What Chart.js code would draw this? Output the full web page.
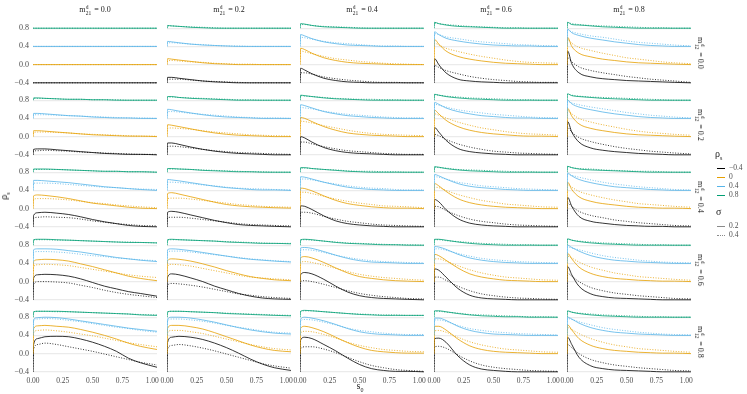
<!DOCTYPE html>
<html>
<head>
<meta charset="utf-8">
<script src="https://cdn.jsdelivr.net/npm/chart.js@4.4.1/dist/chart.umd.min.js"></script>
<style>
  body { margin: 0; background: #fff; width: 747px; height: 394px; position: relative; overflow: hidden;
         font-family: "Liberation Serif", "DejaVu Serif", serif; color: #1a1a1a; }
  canvas { position: absolute; }
  .txt { position: absolute; white-space: nowrap; font-size: 8px; line-height: 10px; color: #1a1a1a; will-change: transform; }
  .ss { display: inline-block; position: relative; width: 7px; height: 1px; }
  .ss .up { position: absolute; left: 0.5px; top: -7px; font-size: 5.5px; line-height: 6px; }
  .ss .dn { position: absolute; left: 0.5px; top: -1px; font-size: 5.5px; line-height: 6px; }
  .key { position: absolute; width: 8px; height: 0; }
</style>
</head>
<body>
<script>
// x grid of every curve (s0)
const s0 = [0, 0.005, 0.04, 0.1, 0.2, 0.3, 0.4, 0.5, 0.6, 0.7, 0.8, 0.9, 1.04];

const rhoLevels = ['\u22120.4', '0', '0.4', '0.8'];
const rhoColors = ['#000000', '#E69F00', '#56B4E9', '#009E73'];
const sigmaLevels = ['0.2', '0.4'];
const m21Levels = ['0.0', '0.2', '0.4', '0.6', '0.8'];   // columns
const m12Levels = ['0.0', '0.2', '0.4', '0.6', '0.8'];   // rows
const yTicks = [-0.4, 0, 0.4, 0.8];
const xTicks = [0, 0.25, 0.5, 0.75, 1];

// each panel: [rho -0.4 sigma .2, rho -0.4 sigma .4, rho 0 s.2, rho 0 s.4, rho .4 s.2, rho .4 s.4, rho .8 s.2, rho .8 s.4]
// ---- m12 = 0.0
const r1c1 = [
  [-0.4,-0.4,-0.4,-0.4,-0.4,-0.4,-0.4,-0.4,-0.4,-0.4,-0.4,-0.4,-0.4],
  [-0.4,-0.4,-0.4,-0.4,-0.4,-0.4,-0.4,-0.4,-0.4,-0.4,-0.4,-0.4,-0.4],
  [0,0,0,0,0,0,0,0,0,0,0,0,0],
  [0,0,0,0,0,0,0,0,0,0,0,0,0],
  [0.4,0.4,0.4,0.4,0.4,0.4,0.4,0.4,0.4,0.4,0.4,0.4,0.4],
  [0.4,0.4,0.4,0.4,0.4,0.4,0.4,0.4,0.4,0.4,0.4,0.4,0.4],
  [0.8,0.8,0.8,0.8,0.8,0.8,0.8,0.8,0.8,0.8,0.8,0.8,0.8],
  [0.8,0.8,0.8,0.8,0.8,0.8,0.8,0.8,0.8,0.8,0.8,0.8,0.8]
];
const r1c2 = [
  [-0.4,-0.28,-0.28,-0.3,-0.33,-0.36,-0.38,-0.39,-0.4,-0.4,-0.4,-0.4,-0.4],
  [-0.4,-0.33,-0.32,-0.32,-0.34,-0.36,-0.37,-0.38,-0.39,-0.4,-0.4,-0.4,-0.4],
  [0,0.13,0.12,0.1,0.07,0.04,0.02,0.01,0,0,0,0,0],
  [0,0.08,0.09,0.08,0.06,0.05,0.03,0.02,0.01,0.01,0,0,0],
  [0.4,0.51,0.5,0.48,0.45,0.43,0.42,0.41,0.4,0.4,0.4,0.4,0.4],
  [0.4,0.48,0.48,0.47,0.45,0.44,0.42,0.41,0.41,0.4,0.4,0.4,0.4],
  [0.8,0.86,0.85,0.84,0.82,0.81,0.8,0.8,0.8,0.8,0.8,0.8,0.8],
  [0.8,0.85,0.85,0.84,0.83,0.82,0.81,0.8,0.8,0.8,0.8,0.8,0.8]
];
const r1c3 = [
  [-0.4,-0.08,-0.12,-0.2,-0.3,-0.35,-0.38,-0.39,-0.4,-0.4,-0.4,-0.4,-0.4],
  [-0.4,-0.18,-0.18,-0.21,-0.27,-0.31,-0.34,-0.36,-0.38,-0.39,-0.39,-0.4,-0.4],
  [0,0.36,0.33,0.25,0.15,0.09,0.05,0.03,0.02,0.01,0,0,0],
  [0,0.3,0.28,0.24,0.18,0.13,0.1,0.07,0.05,0.03,0.02,0.01,0],
  [0.4,0.66,0.63,0.57,0.5,0.46,0.43,0.42,0.41,0.4,0.4,0.4,0.4],
  [0.4,0.6,0.59,0.56,0.51,0.48,0.46,0.44,0.42,0.41,0.41,0.4,0.4],
  [0.8,0.9,0.89,0.86,0.83,0.82,0.81,0.8,0.8,0.8,0.8,0.8,0.8],
  [0.8,0.88,0.88,0.86,0.84,0.83,0.82,0.81,0.8,0.8,0.8,0.8,0.8]
];
const r1c4 = [
  [-0.4,0.13,0.0,-0.18,-0.32,-0.36,-0.38,-0.39,-0.4,-0.4,-0.4,-0.4,-0.4],
  [-0.4,-0.02,-0.06,-0.13,-0.2,-0.26,-0.3,-0.33,-0.35,-0.37,-0.38,-0.39,-0.39],
  [0,0.55,0.45,0.3,0.18,0.12,0.08,0.05,0.03,0.02,0.01,0,0],
  [0,0.47,0.43,0.36,0.29,0.23,0.18,0.14,0.1,0.07,0.05,0.04,0.03],
  [0.4,0.72,0.66,0.58,0.52,0.48,0.45,0.43,0.42,0.41,0.41,0.4,0.4],
  [0.4,0.68,0.66,0.61,0.57,0.53,0.5,0.48,0.46,0.44,0.43,0.42,0.41],
  [0.8,0.93,0.9,0.87,0.84,0.83,0.82,0.81,0.8,0.8,0.8,0.8,0.8],
  [0.8,0.91,0.9,0.88,0.86,0.84,0.83,0.82,0.81,0.81,0.8,0.8,0.8]
];
const r1c5 = [
  [-0.4,0.3,0.02,-0.18,-0.27,-0.31,-0.33,-0.35,-0.36,-0.37,-0.38,-0.39,-0.4],
  [-0.4,0.15,0.06,-0.05,-0.13,-0.18,-0.22,-0.26,-0.29,-0.32,-0.34,-0.36,-0.39],
  [0,0.6,0.4,0.25,0.17,0.12,0.09,0.06,0.04,0.03,0.02,0.01,0],
  [0,0.55,0.47,0.38,0.31,0.25,0.2,0.15,0.12,0.09,0.06,0.04,0.02],
  [0.4,0.78,0.7,0.64,0.58,0.54,0.5,0.47,0.44,0.42,0.41,0.4,0.4],
  [0.4,0.75,0.72,0.68,0.63,0.6,0.56,0.52,0.49,0.47,0.45,0.43,0.41],
  [0.8,0.93,0.88,0.87,0.85,0.83,0.82,0.81,0.8,0.8,0.8,0.8,0.8],
  [0.8,0.92,0.9,0.88,0.86,0.85,0.84,0.83,0.82,0.81,0.81,0.8,0.8]
];
// ---- m12 = 0.2
const r2c1 = [
  [-0.4,-0.28,-0.27,-0.27,-0.29,-0.31,-0.33,-0.35,-0.37,-0.38,-0.39,-0.39,-0.4],
  [-0.4,-0.32,-0.31,-0.3,-0.31,-0.32,-0.34,-0.35,-0.36,-0.37,-0.38,-0.39,-0.39],
  [0,0.13,0.13,0.12,0.1,0.08,0.06,0.04,0.03,0.02,0.01,0.01,0],
  [0,0.09,0.1,0.1,0.09,0.08,0.06,0.05,0.04,0.03,0.02,0.01,0.01],
  [0.4,0.51,0.51,0.5,0.48,0.46,0.45,0.43,0.42,0.41,0.41,0.4,0.4],
  [0.4,0.48,0.48,0.48,0.47,0.46,0.45,0.44,0.43,0.42,0.41,0.41,0.4],
  [0.8,0.85,0.85,0.84,0.83,0.82,0.82,0.81,0.81,0.8,0.8,0.8,0.8],
  [0.8,0.84,0.84,0.84,0.83,0.82,0.82,0.81,0.81,0.81,0.8,0.8,0.8]
];
const r2c2 = [
  [-0.4,-0.14,-0.14,-0.17,-0.23,-0.28,-0.32,-0.35,-0.37,-0.38,-0.39,-0.4,-0.4],
  [-0.4,-0.22,-0.21,-0.22,-0.25,-0.28,-0.31,-0.33,-0.35,-0.36,-0.37,-0.38,-0.39],
  [0,0.26,0.25,0.22,0.17,0.12,0.08,0.05,0.03,0.02,0.01,0,0],
  [0,0.18,0.19,0.18,0.16,0.13,0.1,0.08,0.06,0.04,0.03,0.02,0.01],
  [0.4,0.6,0.59,0.56,0.52,0.48,0.45,0.43,0.42,0.41,0.4,0.4,0.4],
  [0.4,0.55,0.55,0.54,0.51,0.49,0.47,0.45,0.43,0.42,0.41,0.41,0.4],
  [0.8,0.88,0.88,0.86,0.84,0.83,0.82,0.81,0.8,0.8,0.8,0.8,0.8],
  [0.8,0.87,0.87,0.86,0.85,0.84,0.83,0.82,0.81,0.81,0.8,0.8,0.8]
];
const r2c3 = [
  [-0.4,0.0,-0.03,-0.12,-0.24,-0.31,-0.35,-0.37,-0.38,-0.39,-0.4,-0.4,-0.4],
  [-0.4,-0.12,-0.12,-0.16,-0.22,-0.27,-0.31,-0.33,-0.35,-0.37,-0.38,-0.39,-0.39],
  [0,0.42,0.4,0.33,0.22,0.14,0.08,0.05,0.03,0.02,0.01,0,0],
  [0,0.34,0.33,0.3,0.24,0.19,0.14,0.1,0.07,0.05,0.04,0.03,0.02],
  [0.4,0.7,0.68,0.63,0.55,0.5,0.46,0.44,0.42,0.41,0.4,0.4,0.4],
  [0.4,0.64,0.63,0.61,0.56,0.52,0.49,0.47,0.45,0.43,0.42,0.41,0.41],
  [0.8,0.91,0.9,0.88,0.85,0.83,0.82,0.81,0.8,0.8,0.8,0.8,0.8],
  [0.8,0.9,0.89,0.88,0.86,0.84,0.83,0.82,0.82,0.81,0.81,0.8,0.8]
];
const r2c4 = [
  [-0.4,0.2,0.1,-0.08,-0.26,-0.33,-0.36,-0.38,-0.39,-0.4,-0.4,-0.4,-0.4],
  [-0.4,0.05,0.02,-0.06,-0.16,-0.23,-0.28,-0.32,-0.34,-0.36,-0.37,-0.38,-0.39],
  [0,0.58,0.5,0.36,0.22,0.14,0.09,0.06,0.04,0.02,0.01,0.01,0],
  [0,0.5,0.47,0.41,0.32,0.25,0.19,0.15,0.11,0.08,0.06,0.05,0.03],
  [0.4,0.75,0.71,0.63,0.55,0.5,0.46,0.44,0.42,0.41,0.41,0.4,0.4],
  [0.4,0.71,0.69,0.65,0.59,0.55,0.52,0.49,0.47,0.45,0.43,0.42,0.41],
  [0.8,0.93,0.91,0.88,0.85,0.83,0.82,0.81,0.8,0.8,0.8,0.8,0.8],
  [0.8,0.92,0.91,0.89,0.87,0.85,0.84,0.83,0.82,0.81,0.81,0.8,0.8]
];
const r2c5 = [
  [-0.4,0.33,0.1,-0.12,-0.25,-0.3,-0.33,-0.35,-0.37,-0.38,-0.39,-0.4,-0.4],
  [-0.4,0.2,0.1,-0.02,-0.11,-0.17,-0.22,-0.26,-0.29,-0.32,-0.34,-0.36,-0.38],
  [0,0.62,0.45,0.28,0.18,0.13,0.09,0.06,0.04,0.03,0.02,0.01,0],
  [0,0.57,0.5,0.4,0.32,0.26,0.21,0.16,0.12,0.09,0.07,0.05,0.03],
  [0.4,0.8,0.72,0.65,0.59,0.54,0.5,0.47,0.44,0.42,0.41,0.4,0.4],
  [0.4,0.77,0.74,0.7,0.65,0.61,0.57,0.53,0.5,0.47,0.45,0.43,0.41],
  [0.8,0.94,0.9,0.88,0.86,0.84,0.83,0.82,0.81,0.8,0.8,0.8,0.8],
  [0.8,0.93,0.91,0.89,0.87,0.86,0.85,0.84,0.83,0.82,0.81,0.8,0.8]
];
// ---- m12 = 0.4
const r3c1 = [
  [-0.4,-0.15,-0.09,-0.08,-0.1,-0.13,-0.18,-0.24,-0.29,-0.33,-0.37,-0.39,-0.4],
  [-0.4,-0.22,-0.19,-0.18,-0.19,-0.2,-0.23,-0.27,-0.3,-0.33,-0.35,-0.37,-0.38],
  [0,0.28,0.3,0.29,0.26,0.22,0.17,0.12,0.09,0.06,0.03,0.01,0],
  [0,0.2,0.22,0.22,0.21,0.19,0.16,0.13,0.11,0.08,0.06,0.04,0.02],
  [0.4,0.62,0.62,0.61,0.59,0.57,0.54,0.51,0.48,0.46,0.44,0.42,0.4],
  [0.4,0.56,0.56,0.56,0.55,0.53,0.51,0.49,0.47,0.46,0.44,0.43,0.42],
  [0.8,0.87,0.87,0.87,0.86,0.85,0.84,0.83,0.82,0.82,0.81,0.81,0.8],
  [0.8,0.86,0.86,0.86,0.86,0.85,0.84,0.83,0.82,0.82,0.81,0.81,0.8]
];
const r3c2 = [
  [-0.4,-0.08,-0.06,-0.08,-0.14,-0.2,-0.26,-0.31,-0.35,-0.37,-0.38,-0.39,-0.4],
  [-0.4,-0.2,-0.19,-0.19,-0.21,-0.24,-0.27,-0.3,-0.33,-0.35,-0.36,-0.37,-0.38],
  [0,0.33,0.35,0.32,0.26,0.2,0.14,0.09,0.06,0.04,0.03,0.02,0.01],
  [0,0.22,0.23,0.23,0.21,0.18,0.15,0.12,0.09,0.07,0.05,0.04,0.03],
  [0.4,0.64,0.63,0.61,0.57,0.53,0.49,0.46,0.44,0.42,0.41,0.41,0.4],
  [0.4,0.58,0.58,0.57,0.55,0.52,0.5,0.47,0.45,0.44,0.43,0.42,0.41],
  [0.8,0.88,0.88,0.87,0.86,0.84,0.83,0.82,0.81,0.81,0.8,0.8,0.8],
  [0.8,0.87,0.87,0.87,0.86,0.85,0.84,0.83,0.82,0.81,0.81,0.8,0.8]
];
const r3c3 = [
  [-0.4,0.06,0.05,-0.02,-0.16,-0.27,-0.33,-0.36,-0.38,-0.39,-0.4,-0.4,-0.4],
  [-0.4,-0.08,-0.08,-0.1,-0.17,-0.23,-0.28,-0.31,-0.34,-0.36,-0.37,-0.38,-0.39],
  [0,0.45,0.44,0.39,0.28,0.18,0.11,0.07,0.04,0.02,0.01,0.01,0],
  [0,0.36,0.36,0.33,0.27,0.21,0.16,0.12,0.09,0.06,0.05,0.04,0.02],
  [0.4,0.7,0.69,0.65,0.58,0.52,0.47,0.44,0.42,0.41,0.4,0.4,0.4],
  [0.4,0.65,0.65,0.63,0.58,0.54,0.5,0.47,0.45,0.44,0.42,0.41,0.41],
  [0.8,0.9,0.9,0.88,0.86,0.84,0.82,0.81,0.8,0.8,0.8,0.8,0.8],
  [0.8,0.89,0.89,0.88,0.86,0.85,0.83,0.82,0.82,0.81,0.81,0.8,0.8]
];
const r3c4 = [
  [-0.4,0.2,0.15,-0.02,-0.22,-0.32,-0.36,-0.38,-0.39,-0.4,-0.4,-0.4,-0.4],
  [-0.4,0.05,0.04,-0.04,-0.15,-0.23,-0.28,-0.31,-0.34,-0.36,-0.37,-0.38,-0.39],
  [0,0.55,0.5,0.38,0.22,0.13,0.08,0.05,0.03,0.02,0.01,0,0],
  [0,0.47,0.46,0.4,0.31,0.24,0.18,0.14,0.1,0.08,0.06,0.04,0.03],
  [0.4,0.75,0.72,0.65,0.55,0.49,0.46,0.44,0.42,0.41,0.4,0.4,0.4],
  [0.4,0.7,0.69,0.65,0.58,0.54,0.5,0.48,0.46,0.44,0.43,0.42,0.41],
  [0.8,0.92,0.91,0.88,0.85,0.83,0.82,0.81,0.8,0.8,0.8,0.8,0.8],
  [0.8,0.91,0.9,0.89,0.86,0.85,0.84,0.83,0.82,0.81,0.81,0.8,0.8]
];
const r3c5 = [
  [-0.4,0.25,0.05,-0.17,-0.28,-0.32,-0.35,-0.37,-0.38,-0.39,-0.39,-0.4,-0.4],
  [-0.4,0.12,0.05,-0.06,-0.15,-0.2,-0.25,-0.28,-0.31,-0.33,-0.35,-0.37,-0.38],
  [0,0.58,0.42,0.26,0.16,0.11,0.08,0.05,0.03,0.02,0.01,0.01,0],
  [0,0.52,0.47,0.38,0.3,0.24,0.19,0.15,0.11,0.09,0.07,0.05,0.03],
  [0.4,0.78,0.72,0.64,0.57,0.52,0.48,0.46,0.44,0.42,0.41,0.4,0.4],
  [0.4,0.75,0.73,0.69,0.63,0.58,0.54,0.51,0.48,0.46,0.44,0.42,0.41],
  [0.8,0.93,0.9,0.87,0.85,0.84,0.83,0.82,0.81,0.8,0.8,0.8,0.8],
  [0.8,0.92,0.9,0.88,0.87,0.85,0.84,0.83,0.82,0.82,0.81,0.8,0.8]
];
// ---- m12 = 0.6
const r4c1 = [
  [-0.4,0.08,0.15,0.16,0.15,0.12,0.06,-0.02,-0.1,-0.16,-0.22,-0.26,-0.32],
  [-0.4,-0.06,0.0,0.0,-0.01,-0.03,-0.08,-0.13,-0.19,-0.24,-0.28,-0.31,-0.35],
  [0,0.44,0.48,0.49,0.48,0.45,0.39,0.33,0.26,0.19,0.12,0.07,0.02],
  [0,0.33,0.37,0.38,0.37,0.35,0.31,0.27,0.23,0.19,0.15,0.12,0.09],
  [0.4,0.7,0.72,0.72,0.71,0.68,0.65,0.61,0.57,0.53,0.5,0.47,0.44],
  [0.4,0.64,0.66,0.66,0.65,0.63,0.6,0.57,0.55,0.52,0.5,0.48,0.46],
  [0.8,0.92,0.93,0.93,0.92,0.91,0.9,0.89,0.88,0.87,0.86,0.86,0.85],
  [0.8,0.91,0.92,0.92,0.91,0.91,0.9,0.89,0.88,0.87,0.87,0.86,0.85]
];
const r4c2 = [
  [-0.4,0.1,0.17,0.15,0.08,0.0,-0.1,-0.18,-0.26,-0.32,-0.36,-0.38,-0.39],
  [-0.4,-0.08,-0.04,-0.05,-0.08,-0.12,-0.17,-0.22,-0.27,-0.3,-0.33,-0.35,-0.37],
  [0,0.46,0.5,0.49,0.45,0.39,0.32,0.24,0.17,0.11,0.07,0.04,0.02],
  [0,0.34,0.38,0.37,0.34,0.29,0.24,0.19,0.14,0.1,0.08,0.06,0.04],
  [0.4,0.7,0.72,0.71,0.68,0.64,0.6,0.56,0.52,0.49,0.47,0.45,0.43],
  [0.4,0.65,0.67,0.67,0.65,0.62,0.59,0.56,0.53,0.5,0.48,0.46,0.44],
  [0.8,0.92,0.93,0.92,0.91,0.9,0.89,0.87,0.86,0.85,0.84,0.84,0.83],
  [0.8,0.91,0.92,0.92,0.91,0.9,0.89,0.88,0.87,0.86,0.85,0.84,0.84]
];
const r4c3 = [
  [-0.4,0.15,0.2,0.17,0.05,-0.1,-0.23,-0.31,-0.35,-0.37,-0.38,-0.39,-0.4],
  [-0.4,0.0,0.02,0.0,-0.06,-0.13,-0.2,-0.26,-0.3,-0.33,-0.35,-0.37,-0.38],
  [0,0.52,0.55,0.52,0.42,0.3,0.19,0.11,0.07,0.04,0.02,0.01,0],
  [0,0.42,0.44,0.42,0.36,0.29,0.22,0.16,0.12,0.09,0.07,0.05,0.03],
  [0.4,0.74,0.75,0.73,0.66,0.58,0.51,0.46,0.43,0.42,0.41,0.4,0.4],
  [0.4,0.69,0.7,0.69,0.64,0.58,0.53,0.49,0.46,0.44,0.43,0.42,0.41],
  [0.8,0.92,0.93,0.92,0.89,0.86,0.84,0.83,0.82,0.81,0.81,0.8,0.8],
  [0.8,0.91,0.92,0.91,0.89,0.87,0.85,0.84,0.83,0.82,0.81,0.81,0.8]
];
const r4c4 = [
  [-0.4,0.28,0.25,0.1,-0.15,-0.3,-0.36,-0.38,-0.39,-0.4,-0.4,-0.4,-0.4],
  [-0.4,0.1,0.1,0.03,-0.1,-0.2,-0.27,-0.31,-0.34,-0.36,-0.37,-0.38,-0.39],
  [0,0.6,0.57,0.47,0.3,0.17,0.1,0.06,0.03,0.02,0.01,0,0],
  [0,0.5,0.5,0.45,0.35,0.26,0.19,0.14,0.1,0.08,0.06,0.04,0.03],
  [0.4,0.77,0.76,0.71,0.6,0.52,0.47,0.44,0.42,0.41,0.4,0.4,0.4],
  [0.4,0.72,0.72,0.69,0.62,0.56,0.51,0.48,0.46,0.44,0.43,0.42,0.41],
  [0.8,0.93,0.93,0.91,0.87,0.84,0.82,0.81,0.8,0.8,0.8,0.8,0.8],
  [0.8,0.92,0.92,0.9,0.88,0.86,0.84,0.83,0.82,0.81,0.81,0.8,0.8]
];
const r4c5 = [
  [-0.4,0.33,0.15,-0.1,-0.27,-0.33,-0.36,-0.37,-0.38,-0.39,-0.4,-0.4,-0.4],
  [-0.4,0.18,0.12,0.0,-0.13,-0.2,-0.25,-0.28,-0.31,-0.33,-0.35,-0.37,-0.38],
  [0,0.62,0.5,0.32,0.18,0.11,0.07,0.05,0.03,0.02,0.01,0.01,0],
  [0,0.56,0.52,0.43,0.32,0.25,0.19,0.15,0.11,0.09,0.07,0.05,0.03],
  [0.4,0.8,0.75,0.67,0.57,0.51,0.47,0.45,0.43,0.42,0.41,0.4,0.4],
  [0.4,0.76,0.74,0.7,0.63,0.57,0.53,0.5,0.47,0.45,0.43,0.42,0.41],
  [0.8,0.94,0.91,0.88,0.85,0.83,0.82,0.81,0.8,0.8,0.8,0.8,0.8],
  [0.8,0.93,0.91,0.89,0.87,0.85,0.84,0.83,0.82,0.81,0.81,0.8,0.8]
];
// ---- m12 = 0.8
const r5c1 = [
  [-0.4,0.2,0.33,0.37,0.38,0.37,0.32,0.25,0.16,0.05,-0.1,-0.2,-0.3],
  [-0.4,0.1,0.2,0.23,0.2,0.15,0.1,0.05,-0.01,-0.07,-0.13,-0.19,-0.25],
  [0,0.55,0.61,0.62,0.6,0.58,0.53,0.47,0.4,0.32,0.23,0.16,0.09],
  [0,0.46,0.51,0.52,0.5,0.47,0.43,0.39,0.34,0.29,0.24,0.2,0.15],
  [0.4,0.75,0.79,0.8,0.79,0.76,0.72,0.68,0.64,0.6,0.56,0.53,0.49],
  [0.4,0.72,0.76,0.77,0.76,0.73,0.7,0.66,0.62,0.58,0.55,0.51,0.47],
  [0.8,0.92,0.93,0.93,0.93,0.92,0.91,0.9,0.89,0.88,0.87,0.85,0.84],
  [0.8,0.91,0.93,0.93,0.92,0.92,0.91,0.9,0.89,0.88,0.87,0.86,0.85]
];
const r5c2 = [
  [-0.4,0.25,0.36,0.38,0.36,0.31,0.23,0.13,0.01,-0.12,-0.23,-0.31,-0.37],
  [-0.4,0.1,0.18,0.2,0.17,0.12,0.06,-0.01,-0.08,-0.15,-0.22,-0.27,-0.32],
  [0,0.56,0.62,0.62,0.59,0.54,0.46,0.37,0.28,0.19,0.12,0.07,0.04],
  [0,0.46,0.51,0.51,0.48,0.44,0.38,0.32,0.26,0.2,0.15,0.11,0.08],
  [0.4,0.76,0.8,0.8,0.78,0.74,0.69,0.63,0.57,0.52,0.48,0.45,0.43],
  [0.4,0.72,0.76,0.76,0.74,0.71,0.67,0.62,0.58,0.54,0.5,0.47,0.45],
  [0.8,0.92,0.93,0.93,0.92,0.91,0.9,0.88,0.87,0.86,0.85,0.84,0.83],
  [0.8,0.91,0.93,0.93,0.92,0.91,0.9,0.89,0.88,0.87,0.86,0.85,0.84]
];
const r5c3 = [
  [-0.4,0.3,0.36,0.33,0.2,0.06,-0.1,-0.24,-0.33,-0.37,-0.39,-0.39,-0.4],
  [-0.4,0.1,0.15,0.15,0.1,0.02,-0.08,-0.18,-0.26,-0.31,-0.35,-0.37,-0.39],
  [0,0.56,0.6,0.57,0.48,0.36,0.24,0.14,0.07,0.04,0.02,0.01,0.01],
  [0,0.45,0.49,0.48,0.42,0.34,0.25,0.18,0.13,0.09,0.07,0.05,0.04],
  [0.4,0.76,0.8,0.78,0.72,0.64,0.55,0.48,0.44,0.42,0.41,0.4,0.4],
  [0.4,0.72,0.75,0.74,0.69,0.63,0.56,0.51,0.48,0.45,0.43,0.42,0.42],
  [0.8,0.93,0.95,0.94,0.92,0.9,0.88,0.86,0.85,0.84,0.84,0.84,0.84],
  [0.8,0.92,0.94,0.94,0.92,0.9,0.88,0.87,0.86,0.85,0.85,0.84,0.84]
];
const r5c4 = [
  [-0.4,0.33,0.34,0.25,-0.05,-0.25,-0.34,-0.37,-0.39,-0.4,-0.4,-0.4,-0.4],
  [-0.4,0.15,0.16,0.12,-0.03,-0.16,-0.25,-0.3,-0.33,-0.35,-0.37,-0.38,-0.39],
  [0,0.6,0.6,0.52,0.32,0.17,0.09,0.05,0.03,0.02,0.01,0,0],
  [0,0.5,0.51,0.47,0.36,0.26,0.19,0.14,0.1,0.08,0.06,0.04,0.03],
  [0.4,0.78,0.78,0.73,0.6,0.51,0.46,0.43,0.42,0.41,0.4,0.4,0.4],
  [0.4,0.74,0.74,0.71,0.62,0.55,0.51,0.48,0.46,0.44,0.43,0.42,0.41],
  [0.8,0.94,0.94,0.92,0.88,0.85,0.83,0.82,0.81,0.81,0.8,0.8,0.8],
  [0.8,0.93,0.93,0.91,0.89,0.86,0.85,0.84,0.83,0.82,0.81,0.81,0.8]
];
const r5c5 = [
  [-0.4,0.36,0.2,-0.08,-0.27,-0.33,-0.36,-0.37,-0.38,-0.39,-0.4,-0.4,-0.4],
  [-0.4,0.2,0.13,0.0,-0.13,-0.2,-0.25,-0.28,-0.31,-0.33,-0.35,-0.37,-0.38],
  [0,0.63,0.52,0.33,0.18,0.11,0.07,0.05,0.03,0.02,0.01,0.01,0],
  [0,0.57,0.53,0.44,0.33,0.25,0.19,0.15,0.11,0.09,0.07,0.05,0.03],
  [0.4,0.8,0.76,0.67,0.57,0.51,0.47,0.45,0.43,0.42,0.41,0.4,0.4],
  [0.4,0.77,0.75,0.7,0.63,0.57,0.53,0.5,0.47,0.45,0.43,0.42,0.41],
  [0.8,0.94,0.91,0.88,0.85,0.83,0.82,0.81,0.8,0.8,0.8,0.8,0.8],
  [0.8,0.93,0.91,0.89,0.87,0.85,0.84,0.83,0.82,0.81,0.81,0.8,0.8]
];

const panels = [
  [r1c1, r1c2, r1c3, r1c4, r1c5],
  [r2c1, r2c2, r2c3, r2c4, r2c5],
  [r3c1, r3c2, r3c3, r3c4, r3c5],
  [r4c1, r4c2, r4c3, r4c4, r4c5],
  [r5c1, r5c2, r5c3, r5c4, r5c5]
];

// layout (px)
const panelLeft = 33, colPitch = 133.5, panelW = 124;
const panelTop = 20, rowPitch = 72.2, panelH = 66;
const yAxisW = 33, xAxisH = 12, sideRoom = 9;
const gridColor = '#ebebeb';
const tickColor = '#4d4d4d';
const fontFamily = '"Liberation Serif", "DejaVu Serif", serif';

function addText(html, left, top, css) {
  const d = document.createElement('div');
  d.className = 'txt';
  d.innerHTML = html;
  d.style.left = left + 'px';
  d.style.top = top + 'px';
  if (css) Object.assign(d.style, css);
  document.body.appendChild(d);
  return d;
}

// no extra room for tick labels: the plot area must be exactly the panel
function noPad(s) {
  s.paddingLeft = 0; s.paddingRight = 0; s.paddingTop = 0; s.paddingBottom = 0;
}

function makePanel(r, c) {
  const isLeft = c === 0, isBottom = r === 4;
  const L = Math.round(panelLeft + c * colPitch);
  const T = Math.round(panelTop + r * rowPitch);
  // bottom row gets some room left/right so the end tick labels are not cut
  const padL = isBottom && !isLeft ? sideRoom : 0;
  const padR = isBottom ? sideRoom : 0;
  const cv = document.createElement('canvas');
  const w = panelW + (isLeft ? yAxisW : 0) + padL + padR;
  const h = panelH + (isBottom ? xAxisH : 0);
  cv.width = w; cv.height = h;
  cv.style.left = (L - (isLeft ? yAxisW : 0) - padL) + 'px';
  cv.style.top = T + 'px';
  cv.style.width = w + 'px'; cv.style.height = h + 'px';
  document.body.appendChild(cv);

  const series = panels[r][c];
  const datasets = [];
  // green first so black ends on top
  for (let i = 3; i >= 0; i--) {
    for (let j = 0; j < 2; j++) {
      datasets.push({
        data: s0.map((x, k) => ({ x: x, y: series[i * 2 + j][k] })),
        borderColor: rhoColors[i],
        borderWidth: 0.8,
        borderDash: j === 1 ? [1, 1.6] : [],
        pointRadius: 0,
        cubicInterpolationMode: 'monotone',
        fill: false
      });
    }
  }

  new Chart(cv, {
    type: 'line',
    data: { datasets: datasets },
    options: {
      responsive: false,
      animation: false,
      devicePixelRatio: 1,
      events: [],
      layout: { padding: { left: padL, right: padR, top: 0, bottom: 0 } },
      plugins: { legend: { display: false }, tooltip: { enabled: false } },
      scales: {
        x: {
          type: 'linear', min: 0, max: 1.04,
          grid: { display: false, drawTicks: false },
          border: { display: false },
          afterBuildTicks: s => { s.ticks = xTicks.map(v => ({ value: v })); },
          afterFit: s => { s.height = isBottom ? xAxisH : 0; noPad(s); },
          ticks: {
            display: isBottom, padding: 2, color: tickColor, maxRotation: 0, autoSkip: false,
            font: { family: fontFamily, size: 7.5 },
            callback: v => v.toFixed(2)
          }
        },
        y: {
          type: 'linear', min: -0.47, max: 0.98,
          grid: { color: gridColor, lineWidth: 1.2, drawTicks: false },
          border: { display: false },
          afterBuildTicks: s => { s.ticks = yTicks.map(v => ({ value: v })); },
          afterFit: s => { s.width = isLeft ? yAxisW : 0; noPad(s); },
          ticks: {
            display: isLeft, padding: 4, color: tickColor, autoSkip: false,
            font: { family: fontFamily, size: 8 },
            callback: v => (v < 0 ? '\u2212' : '') + Math.abs(v).toFixed(1)
          }
        }
      }
    }
  });
}

for (let r = 0; r < 5; r++) {
  for (let c = 0; c < 5; c++) makePanel(r, c);
}

// top strips (m21)
m21Levels.forEach((lv, c) => {
  const cx = Math.round(panelLeft + c * colPitch) + panelW / 2;
  const d = addText('m<span class="ss"><span class="up">d</span><span class="dn">21</span></span> = ' + lv, cx, 5);
  d.style.transform = 'translateX(-50%)';
});
// right strips (m12)
m12Levels.forEach((lv, r) => {
  const cy = Math.round(panelTop + r * rowPitch) + panelH / 2;
  const d = addText('m<span class="ss"><span class="up">d</span><span class="dn">12</span></span> = ' + lv, 700, cy);
  d.style.transform = 'translate(-50%, -50%) rotate(90deg)';
});

// axis titles
addText('\u03c1<sub style="font-size:6px">s</sub>', 6, 196, { fontSize: '10px', transform: 'translate(-50%, -50%) rotate(-90deg)' });
addText('s<sub style="font-size:6px">0</sub>', 360, 388, { fontSize: '10px', transform: 'translate(-50%, -50%)' });

// legend
addText('\u03c1<sub style="font-size:6px">s</sub>', 715, 149, { fontSize: '10px' });
const rhoY = [168, 177, 186, 195];
rhoLevels.forEach((lv, i) => {
  const k = document.createElement('div');
  k.className = 'key';
  k.style.left = '717px'; k.style.top = (rhoY[i] - 0.5) + 'px';
  k.style.borderTop = '1px solid ' + rhoColors[i];
  document.body.appendChild(k);
  addText(lv, 729, rhoY[i] - 5, { fontSize: '7.5px', color: tickColor });
});
addText('\u03c3', 716, 207, { fontSize: '10px' });
const sigY = [226, 235];
sigmaLevels.forEach((lv, j) => {
  const k = document.createElement('div');
  k.className = 'key';
  k.style.left = '717px'; k.style.top = (sigY[j] - 0.5) + 'px';
  k.style.borderTop = '1px ' + (j === 0 ? 'solid' : 'dotted') + ' #8a8a8a';
  document.body.appendChild(k);
  addText(lv, 729, sigY[j] - 5, { fontSize: '7.5px', color: tickColor });
});
</script>
</body>
</html>
